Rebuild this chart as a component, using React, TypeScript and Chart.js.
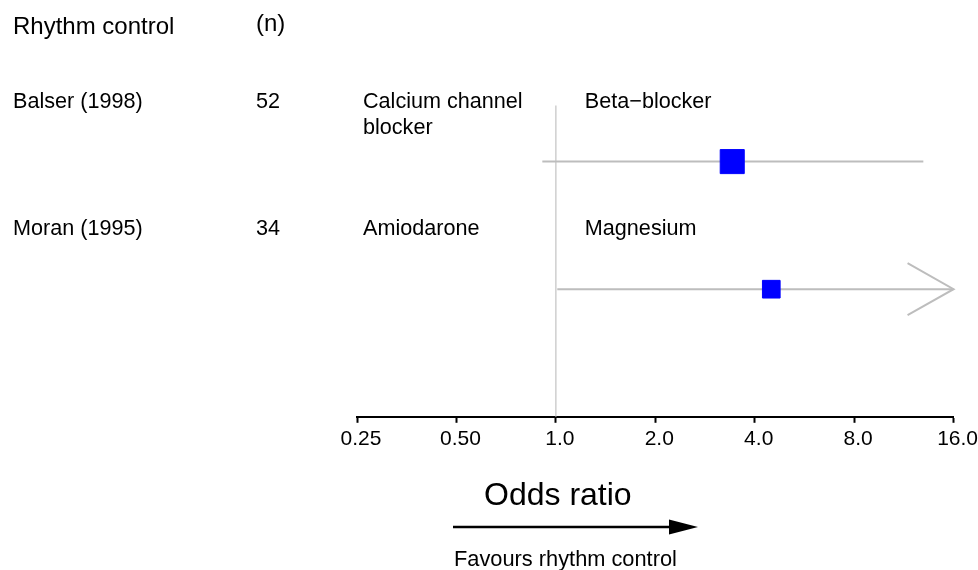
import React, { useEffect, useRef } from 'react';
import { Chart, registerables } from 'chart.js';

Chart.register(...registerables);

const FONT = '"Liberation Sans", Arial, Helvetica, sans-serif';

// ---- data ----
const studies = ['Balser (1998)', 'Moran (1995)'];
const sampleSizes = [52, 34];
const oddsRatios = [3.42, 4.49];
const ciLower = [0.91, 1.01];
const ciUpper = [12.96, 24];
const leftComparators = [['Calcium channel', 'blocker'], ['Amiodarone']];
const rightComparators = [['Beta\u2212blocker'], ['Magnesium']];
const tickValues = [0.25, 0.5, 1, 2, 4, 8, 16];
const tickLabels = ['0.25', '0.50', '1.0', '2.0', '4.0', '8.0', '16.0'];
const xMin = 0.25;
const xMax = 16;
const nullValue = 1;

const CI_COLOR = '#bdbdbd';
const REF_COLOR = '#cfcfcf';

const textPlugin = {
  id: 'forestText',
  afterDraw(chart: any) {
    const { ctx } = chart;
    const x = chart.scales.x;
    const y = chart.scales.y;
    ctx.save();
    ctx.fillStyle = '#000';
    ctx.textAlign = 'left';
    ctx.textBaseline = 'alphabetic';

    const headY = y.getPixelForValue(0);
    ctx.font = `24px ${FONT}`;
    ctx.fillText('Rhythm control', 13, headY);
    ctx.fillText('(n)', 256, headY - 3);

    const leftX = x.getPixelForValue(xMin) + 6;
    const rightX = x.getPixelForValue(nullValue) + 29;

    studies.forEach((s, i) => {
      const rowY = y.getPixelForValue(i + 1);
      const base = rowY - 54;
      ctx.fillStyle = '#000';
      ctx.font = `21.6px ${FONT}`;
      ctx.fillText(s, 13, base);
      ctx.fillText(String(sampleSizes[i]), 256, base);
      leftComparators[i].forEach((line, j) => ctx.fillText(line, leftX, base + j * 26.7));
      rightComparators[i].forEach((line, j) => ctx.fillText(line, rightX, base + j * 26.7));

      if (ciUpper[i] > xMax) {
        const tipX = x.getPixelForValue(xMax);
        ctx.strokeStyle = CI_COLOR;
        ctx.lineWidth = 2;
        ctx.beginPath();
        ctx.moveTo(tipX - 46, rowY - 26);
        ctx.lineTo(tipX, rowY);
        ctx.lineTo(tipX - 46, rowY + 26);
        ctx.stroke();
      }
    });

    // below-axis annotation
    ctx.fillStyle = '#000';
    ctx.font = `32px ${FONT}`;
    ctx.fillText('Odds ratio', 484, 505);

    ctx.strokeStyle = '#000';
    ctx.lineWidth = 2.5;
    ctx.beginPath();
    ctx.moveTo(453, 527);
    ctx.lineTo(674, 527);
    ctx.stroke();
    ctx.beginPath();
    ctx.moveTo(698, 527);
    ctx.lineTo(669, 519.5);
    ctx.lineTo(669, 534.5);
    ctx.closePath();
    ctx.fill();

    ctx.font = `21.8px ${FONT}`;
    ctx.fillText('Favours rhythm control', 454, 566);
    ctx.restore();
  },
};

export default function App() {
  const ref = useRef<HTMLCanvasElement>(null);

  useEffect(() => {
    if (!ref.current) return;
    const ciDatasets = studies.map((s, i) => ({
      type: 'line' as const,
      label: s + ' CI',
      data: [
        { x: ciLower[i], y: i + 1 },
        { x: Math.min(ciUpper[i], xMax), y: i + 1 },
      ],
      borderColor: CI_COLOR,
      borderWidth: 2,
      pointRadius: 0,
      showLine: true,
      order: 2,
    }));

    const chart = new Chart(ref.current, {
      type: 'scatter',
      data: {
        datasets: [
          {
            type: 'line',
            label: 'null',
            data: [
              { x: nullValue, y: 0.56 },
              { x: nullValue, y: 3 },
            ],
            borderColor: REF_COLOR,
            borderWidth: 1.5,
            pointRadius: 0,
            showLine: true,
            order: 3,
          } as any,
          ...(ciDatasets as any[]),
          {
            label: 'Odds ratio',
            data: oddsRatios.map((v, i) => ({ x: v, y: i + 1 })),
            pointStyle: 'rect',
            pointRadius: [17, 12.5],
            pointHoverRadius: [17, 12.5],
            backgroundColor: '#0000ff',
            borderColor: '#0000ff',
            borderWidth: 1,
            order: 1,
          } as any,
        ],
      },
      options: {
        responsive: false,
        animation: false,
        events: [],
        layout: { padding: { left: 357, right: 24, top: 34, bottom: 114 } },
        plugins: {
          legend: { display: false },
          tooltip: { enabled: false },
        },
        scales: {
          x: {
            type: 'logarithmic',
            position: 'bottom',
            min: xMin,
            max: xMax,
            afterBuildTicks: (scale: any) => {
              scale.ticks = tickValues.map((v) => ({ value: v }));
            },
            border: { display: true, color: '#000', width: 2 },
            grid: {
              display: true,
              drawOnChartArea: false,
              drawTicks: true,
              tickLength: 6,
              tickWidth: 2,
              tickColor: '#000',
            },
            ticks: {
              autoSkip: false,
              maxRotation: 0,
              minRotation: 0,
              padding: 4,
              labelOffset: 4,
              color: '#000',
              font: { size: 21, family: FONT },
              callback: (value: any) => {
                const idx = tickValues.findIndex((t) => Math.abs(t - Number(value)) < 1e-9);
                return idx >= 0 ? tickLabels[idx] : '';
              },
            },
          },
          y: {
            type: 'linear',
            display: false,
            reverse: true,
            min: 0,
            max: 3,
          },
        },
      },
      plugins: [textPlugin],
    });
    return () => chart.destroy();
  }, []);

  return (
    <div style={{ position: 'fixed', left: 0, top: 0, width: 978, height: 570, background: '#fff' }}>
      <canvas ref={ref} width={978} height={570} />
    </div>
  );
}
